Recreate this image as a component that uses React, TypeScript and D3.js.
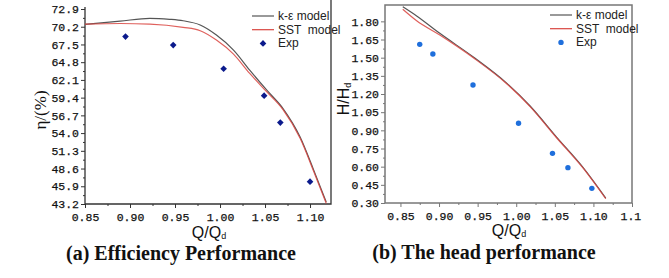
import React, { useEffect, useRef } from "react";
import * as d3 from "d3";

// (a) efficiency, Q/Qd vs eta (%)
const effKeQ = [0.85, 0.889, 0.922, 0.944, 0.959, 0.978, 0.996, 1.015, 1.033, 1.052, 1.07, 1.089, 1.104, 1.118];
const effKe = [70.55, 71.05, 71.48, 71.33, 71.11, 70.46, 68.93, 66.64, 63.59, 60.53, 57.74, 53.4, 48.4, 43.5];
const effSstQ = [0.85, 0.889, 0.922, 0.959, 0.978, 0.996, 1.015, 1.033, 1.052, 1.07, 1.089, 1.104, 1.118];
const effSst = [70.6, 70.69, 70.61, 70.11, 69.59, 68.17, 66.03, 63.08, 60.27, 57.58, 53.2, 48.2, 43.3];
const effExpQ = [0.895, 0.948, 1.004, 1.049, 1.067, 1.1];
const effExp = [68.7, 67.4, 63.8, 59.7, 55.6, 46.6];
const effYTicks = [72.9, 70.2, 67.5, 64.8, 62.1, 59.4, 56.7, 54.0, 51.3, 48.6, 45.9, 43.2];
const effXTicks = [0.85, 0.9, 0.95, 1.0, 1.05, 1.1];

// (b) head, Q/Qd vs H/Hd
const headKeQ = [0.853, 0.871, 0.901, 0.944, 0.988, 1.018, 1.052, 1.087, 1.116];
const headKe = [1.921, 1.845, 1.701, 1.508, 1.288, 1.101, 0.846, 0.59, 0.34];
const headSstQ = [0.853, 0.871, 0.901, 0.944, 0.988, 1.018, 1.052, 1.087, 1.116];
const headSst = [1.9, 1.805, 1.687, 1.501, 1.283, 1.096, 0.841, 0.585, 0.335];
const headExpQ = [0.875, 0.892, 0.944, 1.003, 1.047, 1.067, 1.098];
const headExp = [1.61, 1.53, 1.274, 0.958, 0.71, 0.592, 0.421];
const headYTicks = [0.3, 0.45, 0.6, 0.75, 0.9, 1.05, 1.2, 1.35, 1.5, 1.65, 1.8];
const headXTicks = [0.85, 0.9, 0.95, 1.0, 1.05, 1.1, 1.15];
const headXLabels = ["0.85", "0.90", "0.95", "1.00", "1.05", "1.10", "1.1"];

const legendNames = ["k-\u03b5 model", "SST  model", "Exp"];

const KE_COLOR = "#555555";
const SST_COLOR = "#d9443f";
const TICK_FONT = "Liberation Mono, monospace";

const App = () => {
  const svgRef = useRef<SVGSVGElement | null>(null);

  useEffect(() => {
    const svg = d3.select(svgRef.current);
    svg.selectAll("*").remove();

    const midpoints = (t: number[]) =>
      t.slice(1).map((v, i) => (v + t[i]) / 2);

    const drawPanel = (opts: any) => {
      const {
        x, y, yTicks, yFmt, xTicks, xFmt, keQ, ke, sstQ, sst, expQ, exp,
        marker, frameColor, box, legendX, legendY,
      } = opts;
      const g = svg.append("g");
      const [x0, x1] = x.range();
      const [y0, y1] = y.range();

      // minor ticks
      g.append("g")
        .attr("transform", `translate(${x0},0)`)
        .call(d3.axisLeft(y).tickValues(midpoints(yTicks)).tickSize(2).tickFormat(() => ""))
        .call((a) => a.select(".domain").remove());
      g.append("g")
        .attr("transform", `translate(0,${y0})`)
        .call(d3.axisBottom(x).tickValues(midpoints(xTicks)).tickSize(2).tickFormat(() => ""))
        .call((a) => a.select(".domain").remove());

      const yAxis = g
        .append("g")
        .attr("transform", `translate(${x0},0)`)
        .call(d3.axisLeft(y).tickValues(yTicks).tickSize(4).tickPadding(2).tickFormat(yFmt));
      const xAxis = g
        .append("g")
        .attr("transform", `translate(0,${y0})`)
        .call(d3.axisBottom(x).tickValues(xTicks).tickSize(4).tickPadding(5).tickFormat(xFmt));
      [yAxis, xAxis].forEach((a) => {
        a.select(".domain").remove();
        a.selectAll("text")
          .attr("font-family", TICK_FONT)
          .attr("font-size", 11.5)
          .attr("fill", "#111")
          .attr("stroke", "#111")
          .attr("stroke-width", 0.25);
      });
      g.selectAll(".tick line").attr("stroke", frameColor);

      // frame
      if (box) {
        g.append("rect")
          .attr("x", x0).attr("y", y1)
          .attr("width", x1 - x0).attr("height", y0 - y1)
          .attr("fill", "none").attr("stroke", frameColor).attr("stroke-width", 1.5);
      } else {
        g.append("path")
          .attr("d", `M${x0},${y1 - 2}V${y0}H${x1}V0`)
          .attr("fill", "none").attr("stroke", frameColor).attr("stroke-width", 1.3);
      }

      const line = d3
        .line<number>()
        .x((d) => x(d))
        .curve(d3.curveMonotoneX);

      g.append("path")
        .attr("d", line.y((_, i) => y(ke[i]))(keQ))
        .attr("fill", "none").attr("stroke", KE_COLOR).attr("stroke-width", 1.2);
      g.append("path")
        .attr("d", line.y((_, i) => y(sst[i]))(sstQ))
        .attr("fill", "none").attr("stroke", SST_COLOR).attr("stroke-width", 1.2)
        .attr("stroke-opacity", 0.85);

      const drawMarker = (sel: any, cx: number, cy: number) => {
        if (marker === "diamond") {
          sel.append("path")
            .attr("d", d3.symbol(d3.symbolDiamond2, 28)())
            .attr("transform", `translate(${cx},${cy})`)
            .attr("fill", "#0b1a8c");
        } else {
          sel.append("circle")
            .attr("cx", cx).attr("cy", cy).attr("r", 2.7)
            .attr("fill", "#1f6fdc");
        }
      };
      expQ.forEach((q: number, i: number) => drawMarker(g, x(q), y(exp[i])));

      // legend
      const lg = g.append("g").attr("transform", `translate(${legendX},${legendY})`);
      legendNames.forEach((name, i) => {
        const ly = i * 13.7;
        if (i < 2) {
          lg.append("line")
            .attr("x1", 0).attr("x2", 22).attr("y1", ly).attr("y2", ly)
            .attr("stroke", i === 0 ? KE_COLOR : SST_COLOR).attr("stroke-width", 1.2);
        } else {
          drawMarker(lg, 11, ly);
        }
        lg.append("text")
          .attr("x", 26).attr("y", ly + 4)
          .attr("font-family", "Liberation Sans, Arial, sans-serif")
          .attr("font-size", 12)
          .attr("fill", "#222")
          .attr("xml:space", "preserve")
          .style("white-space", "pre")
          .text(name);
      });
    };

    drawPanel({
      x: d3.scaleLinear().domain([0.85, 1.1233]).range([85, 331]),
      y: d3.scaleLinear().domain([43.2, 72.9]).range([204, 9]),
      yTicks: effYTicks,
      yFmt: (d: number) => d.toFixed(1),
      xTicks: effXTicks,
      xFmt: (d: number) => d.toFixed(2),
      keQ: effKeQ, ke: effKe, sstQ: effSstQ, sst: effSst,
      expQ: effExpQ, exp: effExp,
      marker: "diamond",
      frameColor: "#333",
      box: false,
      legendX: 252,
      legendY: 16,
    });

    drawPanel({
      x: d3.scaleLinear().domain([0.83, 1.15]).range([385, 632]),
      y: d3.scaleLinear().domain([0.3, 1.935]).range([203, 5]),
      yTicks: headYTicks,
      yFmt: (d: number) => d.toFixed(2),
      xTicks: headXTicks,
      xFmt: (_: number, i: number) => headXLabels[i],
      keQ: headKeQ, ke: headKe, sstQ: headSstQ, sst: headSst,
      expQ: headExpQ, exp: headExp,
      marker: "circle",
      frameColor: "#777",
      box: true,
      legendX: 550,
      legendY: 15,
    });

    // the last head tick label is cut short, keep it left-aligned with where 1.15 would start
    svg.selectAll("g .tick text")
      .filter(function () { return d3.select(this).text() === "1.1"; })
      .attr("text-anchor", "start")
      .attr("x", -12);

    // axis titles
    const sans = "Liberation Sans, Arial, sans-serif";
    svg.append("text")
      .attr("transform", "translate(46,110) rotate(-90)")
      .attr("text-anchor", "middle")
      .attr("font-family", "Liberation Serif, serif")
      .attr("font-size", 17)
      .attr("fill", "#111")
      .text("\u03b7/(%)");

    const headTitle = svg.append("text")
      .attr("transform", "translate(349,99) rotate(-90)")
      .attr("text-anchor", "middle")
      .attr("font-family", sans)
      .attr("font-size", 16)
      .attr("fill", "#111");
    headTitle.append("tspan").text("H/H");
    headTitle.append("tspan").attr("font-size", 9).attr("dy", 2).text("d");

    const qTitle = (cx: number, cy: number) => {
      const t = svg.append("text")
        .attr("x", cx).attr("y", cy)
        .attr("text-anchor", "middle")
        .attr("font-family", sans)
        .attr("font-size", 16)
        .attr("fill", "#111");
      t.append("tspan").text("Q/Q");
      t.append("tspan").attr("font-size", 9).attr("dy", 1).text("d");
    };
    qTitle(209, 238);
    qTitle(509, 236);

    const caption = (cx: number, cy: number, s: string) =>
      svg.append("text")
        .attr("x", cx).attr("y", cy)
        .attr("text-anchor", "middle")
        .attr("font-family", "Liberation Serif, serif")
        .attr("font-weight", "bold")
        .attr("font-size", 20)
        .attr("fill", "#111")
        .text(s);
    caption(181, 260, "(a) Efficiency Performance");
    caption(484, 259, "(b) The head performance");
  }, []);

  return (
    <svg
      ref={svgRef}
      width={669}
      height={278}
      style={{ position: "absolute", left: 0, top: 0, background: "#fff" }}
    />
  );
};

export default App;
